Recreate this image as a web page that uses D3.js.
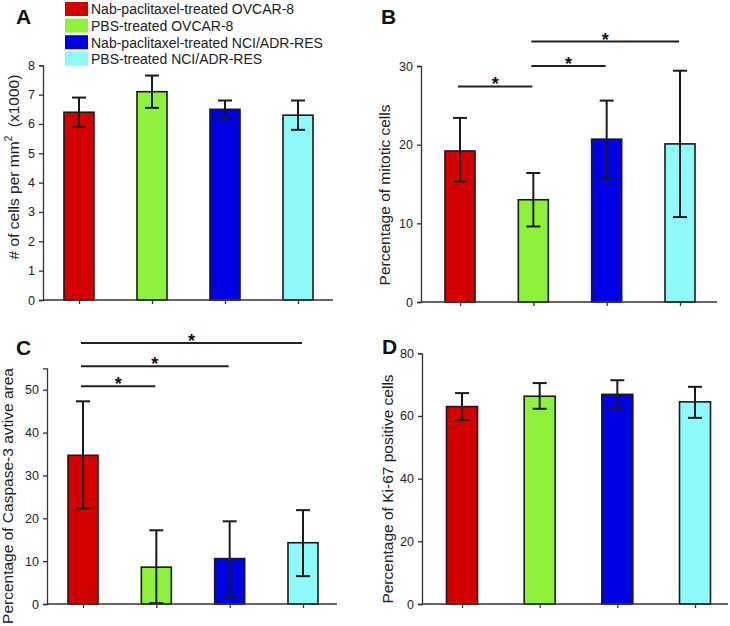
<!DOCTYPE html>
<html><head><meta charset="utf-8">
<script src="https://cdn.jsdelivr.net/npm/d3@7"></script>
<style>
html,body{margin:0;padding:0;background:#fff;}
svg{display:block;font-family:"Liberation Sans",Arial,sans-serif;}
</style></head>
<body>
<svg id="chart" width="730" height="626"></svg>
<script>
// ---- data ----
const groups = ["Nab-paclitaxel-treated OVCAR-8","PBS-treated OVCAR-8","Nab-paclitaxel-treated NCI/ADR-RES","PBS-treated NCI/ADR-RES"];
const colors = ["#d40000","#8ff23a","#0000e6","#8ef9f9"];

const cellsMean = [6.4, 7.1, 6.5, 6.3];
const cellsLow  = [5.9, 6.55, 6.2, 5.8];
const cellsHigh = [6.9, 7.65, 6.8, 6.8];
const cellsTicks = [0,1,2,3,4,5,6,7,8];

const mitoticMean = [19.2, 13.0, 20.7, 20.1];
const mitoticLow  = [15.3, 9.6, 15.7, 10.8];
const mitoticHigh = [23.4, 16.4, 25.6, 29.4];
const mitoticTicks = [0,10,20,30];
const mitoticSig = [[0,1,27.4],[1,2,30.0],[1,3,33.1]];

const caspMean = [34.7, 8.6, 10.6, 14.3];
const caspLow  = [22.3, 0.2, 1.7, 6.5];
const caspHigh = [47.3, 17.2, 19.3, 21.9];
const caspTicks = [0,10,20,30,40,50];
const caspSig = [[0,1,50.8],[0,2,55.5],[0,3,60.9]];

const kiMean = [63.0, 66.3, 66.9, 64.5];
const kiLow  = [58.7, 62.3, 62.4, 59.4];
const kiHigh = [67.3, 70.5, 71.4, 69.3];
const kiTicks = [0,20,40,60,80];

// ---- layout ----
const svg = d3.select("#chart");
const ink = "#1a1a1a";

const panels = [
  {label:"A", lx:16, ly:24, mean:cellsMean, lo:cellsLow, hi:cellsHigh, ticks:cellsTicks, ymax:8,
   ax0:43, ax1:333, c0:79, c3:298, y0:300, yTop:65.3, bw:30,
   ytitle:["# of cells per mm","2","  (x1000)"], tx:18.5, ty:167},
  {label:"B", lx:381, ly:23.5, mean:mitoticMean, lo:mitoticLow, hi:mitoticHigh, ticks:mitoticTicks, ymax:30,
   ax0:421, ax1:717, c0:460, c3:680, y0:302, yTop:66, bw:30, sig:mitoticSig,
   ytitle:["Percentage of mitotic cells"], tx:389.5, ty:195},
  {label:"C", lx:16, ly:355, mean:caspMean, lo:caspLow, hi:caspHigh, ticks:caspTicks, ymax:55,
   ax0:47, ax1:337, c0:83, c3:303, y0:604, yTop:368.3, bw:30, sig:caspSig,
   ytitle:["Percentage of Caspase-3 avtive area"], tx:13, ty:496},
  {label:"D", lx:382, ly:354, mean:kiMean, lo:kiLow, hi:kiHigh, ticks:kiTicks, ymax:80,
   ax0:422, ax1:728, c0:462, c3:695, y0:604, yTop:353.3, bw:31,
   ytitle:["Percentage of Ki-67 positive cells"], tx:393, ty:489}
];

panels.forEach(p => {
  const g = svg.append("g");
  const x = d3.scalePoint().domain(d3.range(4)).range([p.c0, p.c3]);
  const y = d3.scaleLinear().domain([0, p.ymax]).range([p.y0, p.yTop]);

  // bars
  g.selectAll("rect.bar").data(p.mean).join("rect")
    .attr("x", (d,i) => x(i) - p.bw/2)
    .attr("width", p.bw)
    .attr("y", d => y(d))
    .attr("height", d => y(0) - y(d))
    .attr("fill", (d,i) => colors[i])
    .attr("stroke", ink).attr("stroke-width", 1.6);

  // error bars
  const cap = 7;
  const eb = g.selectAll("g.eb").data(p.mean.map((m,i)=>({i, lo:p.lo[i], hi:p.hi[i]}))).join("g")
    .attr("stroke", ink).attr("stroke-width", 2);
  eb.append("line").attr("x1", d=>x(d.i)).attr("x2", d=>x(d.i)).attr("y1", d=>y(d.lo)).attr("y2", d=>y(d.hi));
  eb.append("line").attr("x1", d=>x(d.i)-cap).attr("x2", d=>x(d.i)+cap).attr("y1", d=>y(d.hi)).attr("y2", d=>y(d.hi));
  eb.append("line").attr("x1", d=>x(d.i)-cap).attr("x2", d=>x(d.i)+cap).attr("y1", d=>y(d.lo)).attr("y2", d=>y(d.lo));

  // y axis
  const ya = g.append("g").attr("transform", `translate(${p.ax0},0)`)
    .call(d3.axisLeft(y).tickValues(p.ticks).tickFormat(d3.format("d")).tickSize(4).tickPadding(4));
  ya.select(".domain").attr("stroke", "#333").attr("stroke-width", 1.3);
  ya.selectAll(".tick line").attr("stroke", "#333").attr("stroke-width", 1.3);
  ya.selectAll(".tick text").attr("font-size", 12.5).attr("fill", "#222")
    .attr("font-family", "Liberation Sans, Arial, sans-serif");

  // x axis
  const xa = g.append("g").attr("transform", `translate(0,${p.y0})`)
    .call(d3.axisBottom(x).tickSize(4).tickFormat(""));
  xa.select(".domain").remove();
  xa.selectAll(".tick line").attr("stroke", "#333").attr("stroke-width", 1.3);
  g.append("line").attr("x1", p.ax0).attr("x2", p.ax1).attr("y1", p.y0).attr("y2", p.y0)
    .attr("stroke", "#333").attr("stroke-width", 1.3);

  // y title
  const t = g.append("text")
    .attr("transform", `translate(${p.tx},${p.ty}) rotate(-90)`)
    .attr("text-anchor", "middle").attr("font-size", 15.5).attr("fill", "#222");
  t.append("tspan").text(p.ytitle[0]);
  if (p.ytitle.length > 1) {
    t.append("tspan").attr("font-size", 10).attr("dy", -7).text(p.ytitle[1]);
    t.append("tspan").attr("dy", 7).attr("xml:space","preserve").style("white-space","pre").text(p.ytitle[2]);
  }

  // panel label
  svg.append("text").attr("x", p.lx).attr("y", p.ly)
    .attr("font-size", 21).attr("font-weight", "bold").attr("fill", "#111").text(p.label);

  // significance
  if (p.sig) {
    const s = g.selectAll("g.sig").data(p.sig).join("g");
    s.append("line").attr("x1", d=>x(d[0])-2).attr("x2", d=>x(d[1])-1)
      .attr("y1", d=>y(d[2])).attr("y2", d=>y(d[2]))
      .attr("stroke", "#222").attr("stroke-width", 2);
    s.append("text").attr("x", d=>(x(d[0])+x(d[1]))/2 - 1.5).attr("y", d=>y(d[2]) + 4)
      .attr("text-anchor", "middle").attr("font-size", 18).attr("font-weight", "bold")
      .attr("fill", "#111").text("*");
  }
});

// legend
const leg = svg.append("g").selectAll("g").data(groups).join("g")
  .attr("transform", (d,i) => `translate(65,${2 + i*16.6})`);
leg.append("rect").attr("width", 23).attr("height", 14).attr("fill", (d,i)=>colors[i]);
leg.append("text").attr("x", 26).attr("y", 12.3).attr("font-size", 14).attr("fill", "#222").text(d=>d);
</script>
</body></html>
